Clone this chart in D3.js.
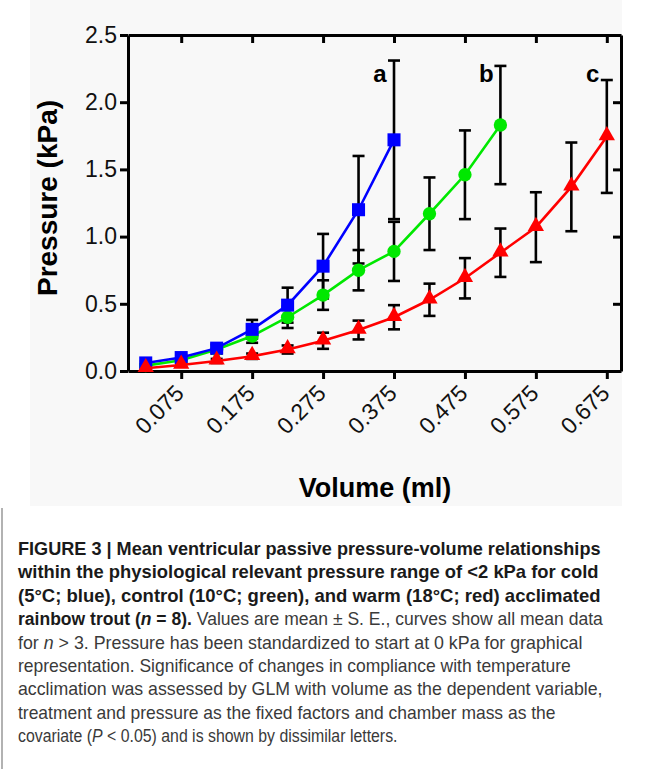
<!DOCTYPE html>
<html>
<head>
<meta charset="utf-8">
<script src="https://cdn.jsdelivr.net/npm/d3@7"></script>
<style>
  body { margin: 0; background: #fff; }
  svg { display: block; }
</style>
</head>
<body>
<svg width="652" height="769"></svg>
<script>
// volumes (ml) at which pressure was measured
var volumes = [0.025, 0.075, 0.125, 0.175, 0.225, 0.275, 0.325, 0.375,
  0.425, 0.475, 0.525, 0.575, 0.625, 0.675];

// cold, 5 C (blue)
var coldMean = [0.06, 0.10, 0.17, 0.31, 0.49, 0.78, 1.20, 1.72];
var coldSE = [0.01, 0.02, 0.03, 0.07, 0.13, 0.24, 0.40, 0.59];

// control, 10 C (green)
var controlMean = [0.04, 0.08, 0.16, 0.26, 0.40, 0.565, 0.75, 0.89, 1.17, 1.46, 1.83];
var controlSE = [0.01, 0.02, 0.03, 0.05, 0.08, 0.11, 0.15, 0.22, 0.27, 0.33, 0.44];

// warm, 18 C (red)
var warmMean = [0.02, 0.045, 0.075, 0.11, 0.16, 0.225, 0.305, 0.40, 0.53, 0.69, 0.88, 1.07, 1.37, 1.745];
var warmSE = [0.01, 0.01, 0.015, 0.02, 0.03, 0.06, 0.07, 0.09, 0.12, 0.15, 0.18, 0.26, 0.33, 0.42];

var xTicks = [0.075, 0.175, 0.275, 0.375, 0.475, 0.575, 0.675];
var yTicks = [0, 0.5, 1.0, 1.5, 2.0, 2.5];
var letters = ['a', 'b', 'c'];
var letterLevel = 2.15;

(function() {
  'use strict';

  var svg = d3.select('svg');

  var plotLeft = 128, plotRight = 621, plotTop = 35, plotBottom = 371;

  var x = d3.scaleLinear().domain([0, 0.695]).range([plotLeft, plotRight]);
  var y = d3.scaleLinear().domain([0, 2.5]).range([plotBottom, plotTop]);

  // grey panel behind the chart
  svg.append('rect')
    .attr('x', 30).attr('y', 0)
    .attr('width', 592).attr('height', 506)
    .attr('fill', '#f8f8f8');

  function styleAxis(g) {
    g.selectAll('path, line')
      .attr('stroke', '#000')
      .attr('stroke-width', 3);
    g.selectAll('text')
      .attr('fill', '#111')
      .style('font-family', 'Liberation Sans, Arial, sans-serif')
      .style('font-size', '23px');
  }

  // bottom axis
  var xAxis = svg.append('g')
    .attr('transform', 'translate(0,' + plotBottom + ')')
    .call(d3.axisBottom(x).tickValues(xTicks).tickSize(8).tickSizeOuter(0)
      .tickFormat(d3.format('.3f')))
    .call(styleAxis);

  xAxis.selectAll('text')
    .attr('text-anchor', 'end')
    .attr('x', 0).attr('y', 0).attr('dy', '0.35em')
    .attr('transform', 'translate(-2,18) rotate(-45)');

  // top axis, ticks inward
  svg.append('g')
    .attr('transform', 'translate(0,' + plotTop + ')')
    .call(d3.axisTop(x).tickValues(xTicks).tickSize(-8).tickSizeOuter(0).tickFormat(''))
    .call(styleAxis);

  // left axis
  svg.append('g')
    .attr('transform', 'translate(' + plotLeft + ',0)')
    .call(d3.axisLeft(y).tickValues(yTicks).tickSize(8).tickSizeOuter(0)
      .tickPadding(3).tickFormat(d3.format('.1f')))
    .call(styleAxis);

  // right axis, ticks inward
  svg.append('g')
    .attr('transform', 'translate(' + plotRight + ',0)')
    .call(d3.axisRight(y).tickValues(yTicks).tickSize(-8).tickSizeOuter(0).tickFormat(''))
    .call(styleAxis);

  // axis titles
  svg.append('text')
    .attr('transform', 'translate(57,198) rotate(-90)')
    .attr('text-anchor', 'middle')
    .style('font-family', 'Liberation Sans, Arial, sans-serif')
    .style('font-weight', 'bold')
    .style('font-size', '28px')
    .text('Pressure (kPa)');

  svg.append('text')
    .attr('x', 375).attr('y', 497)
    .attr('text-anchor', 'middle')
    .style('font-family', 'Liberation Sans, Arial, sans-serif')
    .style('font-weight', 'bold')
    .style('font-size', '27px')
    .text('Volume (ml)');

  function seriesData(means, ses) {
    return means.map(function(m, i) {
      return { v: volumes[i], m: m, se: ses[i] };
    });
  }

  var series = [
    { name: 'control', data: seriesData(controlMean, controlSE), color: '#00e800', symbol: d3.symbolCircle, size: 140 },
    { name: 'cold', data: seriesData(coldMean, coldSE), color: '#0000ff', symbol: d3.symbolSquare, size: 170 },
    { name: 'warm', data: seriesData(warmMean, warmSE), color: '#ff0000', symbol: d3.symbolTriangle, size: 115 }
  ];

  // error bars first
  series.forEach(function(s) {
    var g = svg.append('g').attr('class', s.name + '-err')
      .attr('stroke', '#000').attr('stroke-width', 2.6);
    s.data.forEach(function(d) {
      var cx = x(d.v), y0 = y(d.m - d.se), y1 = y(d.m + d.se);
      g.append('line').attr('x1', cx).attr('x2', cx).attr('y1', y0).attr('y2', y1);
      g.append('line').attr('x1', cx - 6).attr('x2', cx + 6).attr('y1', y0).attr('y2', y0);
      g.append('line').attr('x1', cx - 6).attr('x2', cx + 6).attr('y1', y1).attr('y2', y1);
    });
  });

  var line = d3.line()
    .x(function(d) { return x(d.v); })
    .y(function(d) { return y(d.m); });

  series.forEach(function(s) {
    svg.append('path')
      .datum(s.data)
      .attr('d', line)
      .attr('fill', 'none')
      .attr('stroke', s.color)
      .attr('stroke-width', 2.6);

    svg.append('g').selectAll('path')
      .data(s.data)
      .enter().append('path')
      .attr('d', d3.symbol().type(s.symbol).size(s.size))
      .attr('transform', function(d) {
        var dy = s.symbol === d3.symbolTriangle ? -1 : 0;
        return 'translate(' + x(d.v) + ',' + (y(d.m) + dy) + ')';
      })
      .attr('fill', s.color);
  });

  // significance letters above each curve's last point (cold, control, warm)
  var lastVolumes = [volumes[coldMean.length - 1], volumes[controlMean.length - 1], volumes[warmMean.length - 1]];
  svg.selectAll('.sig')
    .data(letters)
    .enter().append('text')
    .attr('class', 'sig')
    .attr('x', function(d, i) { return x(lastVolumes[i] - 0.02); })
    .attr('y', y(letterLevel))
    .attr('text-anchor', 'middle')
    .style('font-family', 'Liberation Sans, Arial, sans-serif')
    .style('font-weight', 'bold')
    .style('font-size', '24px')
    .text(function(d) { return d; });

  // caption
  svg.append('line')
    .attr('x1', 2).attr('x2', 2).attr('y1', 508).attr('y2', 769)
    .attr('stroke', '#999').attr('stroke-width', 1.5);

  var captionLines = [
    { len: 583, parts: [{ t: 'FIGURE 3 | Mean ventricular passive pressure-volume relationships', b: true }] },
    { len: 581, parts: [{ t: 'within the physiological relevant pressure range of <2 kPa for cold', b: true }] },
    { len: 583, parts: [{ t: '(5°C; blue), control (10°C; green), and warm (18°C; red) acclimated', b: true }] },
    { len: 585, parts: [{ t: 'rainbow trout (', b: true }, { t: 'n', b: true, i: true }, { t: ' = 8).', b: true },
      { t: ' Values are mean ± S. E., curves show all mean data' }] },
    { len: 565, parts: [{ t: 'for ' }, { t: 'n', i: true }, { t: ' > 3. Pressure has been standardized to start at 0 kPa for graphical' }] },
    { len: 553, parts: [{ t: 'representation. Significance of changes in compliance with temperature' }] },
    { len: 585, parts: [{ t: 'acclimation was assessed by GLM with volume as the dependent variable,' }] },
    { len: 538, parts: [{ t: 'treatment and pressure as the fixed factors and chamber mass as the' }] },
    { len: 380, parts: [{ t: 'covariate (' }, { t: 'P', i: true }, { t: ' < 0.05) and is shown by dissimilar letters.' }] }
  ];

  captionLines.forEach(function(ln, i) {
    var g = svg.append('g');
    var t = g.append('text')
      .attr('x', 0)
      .attr('y', 0)
      .style('font-family', 'Liberation Sans, Arial, sans-serif')
      .style('font-size', '17.5px')
      .attr('fill', '#333');
    ln.parts.forEach(function(p) {
      t.append('tspan')
        .style('font-weight', p.b ? 'bold' : 'normal')
        .style('font-style', p.i ? 'italic' : 'normal')
        .attr('fill', p.b ? '#1a1a1a' : '#3a3a3a')
        .text(p.t);
    });
    // squeeze each line horizontally to the narrow width of the original
    var natural = t.node().getComputedTextLength();
    var k = natural > 0 ? ln.len / natural : 1;
    g.attr('transform', 'translate(18,' + (555 + i * 23.4) + ') scale(' + k + ',1)');
  });
})();
</script>
</body>
</html>
